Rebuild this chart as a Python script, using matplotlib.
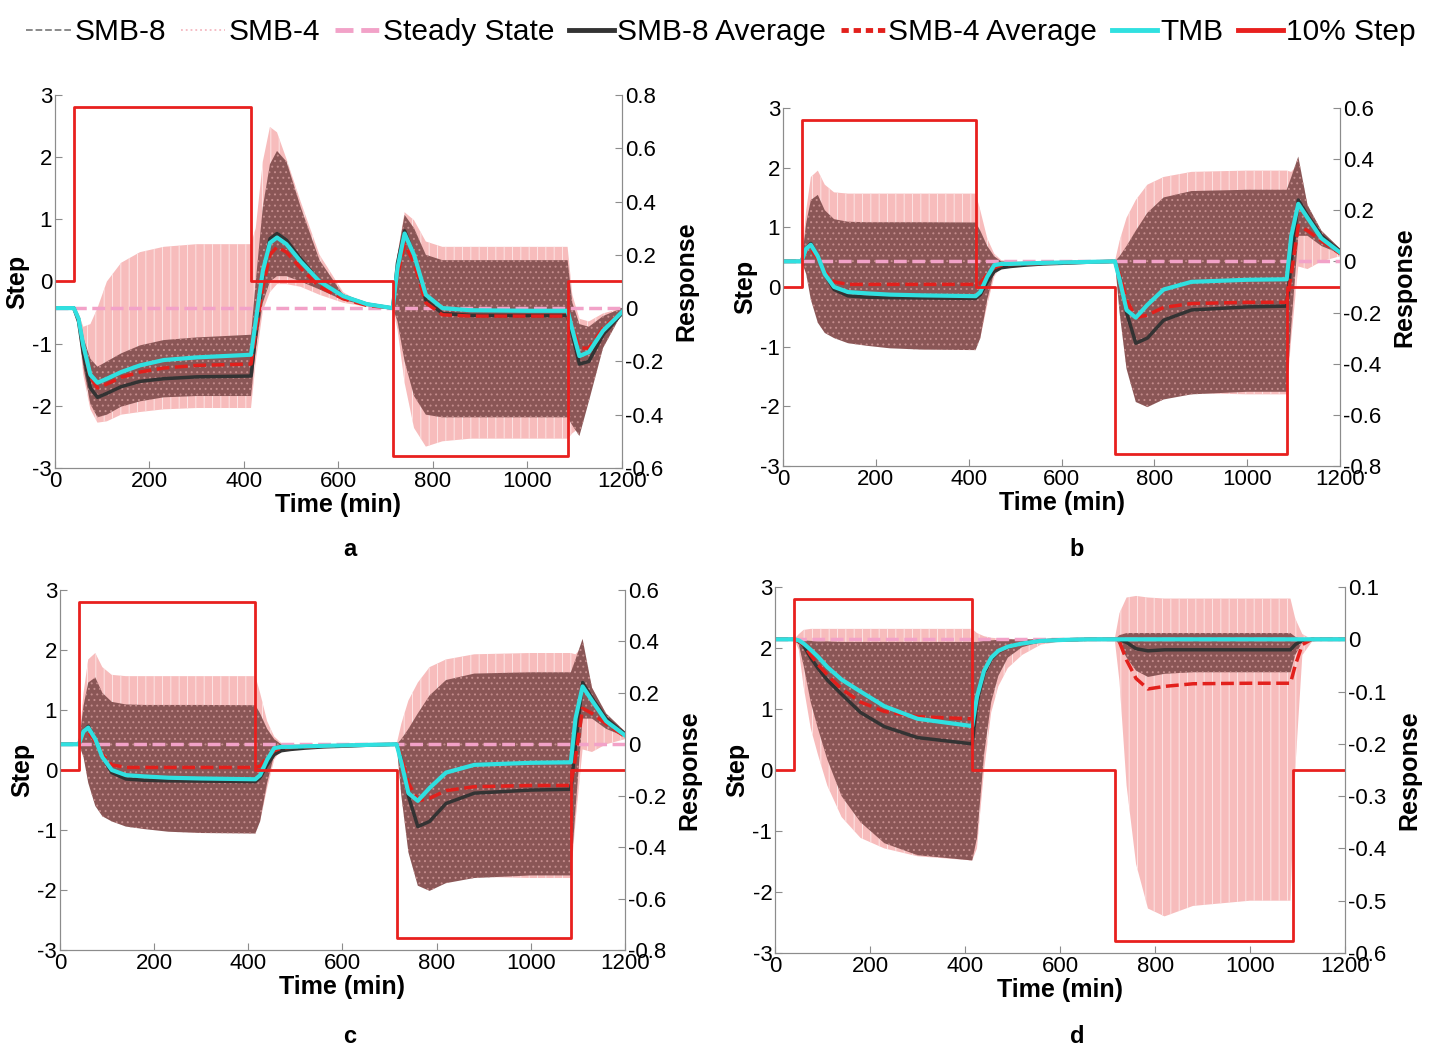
import numpy as np
import matplotlib.pyplot as plt
from matplotlib.lines import Line2D
from matplotlib.ticker import FormatStrFormatter

plt.rcParams['font.family'] = ['Liberation Sans', 'DejaVu Sans']
plt.rcParams['axes.unicode_minus'] = False
plt.rcParams['hatch.linewidth'] = 0.7

# common time grid (min) for the response curves
t = [0, 40, 50, 60, 75, 90, 110, 140, 180, 230, 300, 415, 425, 440, 455, 470, 490, 520, 560, 610,
     660, 715, 725, 740, 760, 785, 820, 880, 1000, 1085, 1095, 1110, 1130, 1160, 1200]

# 10% step input (left axis)
step_t = [0, 40, 415, 715, 1085, 1200]
step_t_d = [0, 40, 415, 715, 1090, 1200]
step_v = [0, 2.8, 0, -2.8, 0, 0]

# panel a
a_tmb = [0, 0, -0.04, -0.14, -0.25, -0.28, -0.265, -0.24, -0.215, -0.195, -0.185, -0.175,
         -0.05, 0.14, 0.245, 0.265, 0.24, 0.175, 0.1, 0.045, 0.015, 0.0,
         0.15, 0.28, 0.2, 0.05, 0.0, -0.008, -0.01, -0.01,
         -0.08, -0.18, -0.165, -0.085, -0.015]
a_avg8 = [0, 0, -0.05, -0.17, -0.3, -0.335, -0.32, -0.295, -0.275, -0.265, -0.258, -0.255,
          -0.1, 0.12, 0.26, 0.28, 0.255, 0.185, 0.1, 0.045, 0.015, 0.0,
          0.17, 0.29, 0.2, 0.03, -0.02, -0.027, -0.028, -0.028,
          -0.1, -0.21, -0.2, -0.1, -0.02]
a_avg4 = [0, 0, -0.04, -0.14, -0.26, -0.3, -0.285, -0.26, -0.24, -0.225, -0.215, -0.21,
          -0.09, 0.08, 0.2, 0.23, 0.21, 0.15, 0.08, 0.035, 0.01, 0.0,
          0.12, 0.24, 0.17, 0.02, -0.025, -0.03, -0.03, -0.03,
          -0.07, -0.15, -0.15, -0.075, -0.015]
a_up8 = [0, 0, -0.03, -0.11, -0.19, -0.22, -0.2, -0.17, -0.14, -0.12, -0.11, -0.1,
         0.1, 0.38, 0.54, 0.59, 0.55, 0.38, 0.18, 0.05, 0.01, 0.0,
         0.2, 0.35, 0.3, 0.2, 0.18, 0.18, 0.18, 0.18,
         0.02, -0.06, -0.07, -0.03, 0.0]
a_lo8 = [0, 0, -0.07, -0.22, -0.36, -0.41, -0.4, -0.37, -0.35, -0.335, -0.33, -0.33,
         -0.15, 0.02, 0.1, 0.12, 0.12, 0.1, 0.07, 0.03, 0.01, 0.0,
         -0.05, -0.2, -0.33, -0.4, -0.41, -0.41, -0.41, -0.41,
         -0.44, -0.48, -0.35, -0.15, -0.02]
a_up4 = [0, 0, -0.02, -0.07, -0.06, 0.0, 0.1, 0.17, 0.21, 0.23, 0.24, 0.24,
         0.3, 0.55, 0.68, 0.66, 0.56, 0.4, 0.2, 0.06, 0.01, 0.0,
         0.2, 0.36, 0.33, 0.25, 0.23, 0.23, 0.23, 0.23,
         0.05, -0.04, -0.05, -0.02, 0.0]
a_lo4 = [0, 0, -0.08, -0.25, -0.38, -0.43, -0.425, -0.4, -0.39, -0.38, -0.375, -0.375,
         -0.2, -0.01, 0.06, 0.09, 0.09, 0.08, 0.05, 0.02, 0.005, 0.0,
         -0.08, -0.28, -0.45, -0.52, -0.5, -0.49, -0.49, -0.49,
         -0.47, -0.45, -0.3, -0.12, -0.02]

# panel b
b_tmb = [0, 0, 0.05, 0.065, 0.02, -0.05, -0.1, -0.12, -0.125, -0.13, -0.133, -0.136,
         -0.12, -0.06, -0.015, -0.01, -0.01, -0.008, -0.006, -0.004, -0.002, 0.0,
         -0.07, -0.19, -0.22, -0.17, -0.11, -0.08, -0.072, -0.07,
         0.1, 0.225, 0.17, 0.09, 0.035]
b_avg8 = [0, 0, 0.05, 0.07, 0.02, -0.05, -0.11, -0.135, -0.14, -0.142, -0.143, -0.145,
          -0.13, -0.08, -0.04, -0.025, -0.02, -0.015, -0.01, -0.007, -0.003, 0.0,
          -0.06, -0.2, -0.32, -0.3, -0.23, -0.19, -0.178, -0.175,
          0.0, 0.24, 0.18, 0.1, 0.04]
b_avg4 = [0, 0, 0.04, 0.05, 0.01, -0.04, -0.08, -0.09, -0.09, -0.09, -0.09, -0.09,
          -0.085, -0.05, -0.025, -0.015, -0.012, -0.01, -0.008, -0.005, -0.002, 0.0,
          -0.05, -0.15, -0.22, -0.21, -0.18, -0.165, -0.16, -0.16,
          -0.05, 0.14, 0.12, 0.08, 0.03]
b_up8 = [0, 0, 0.15, 0.24, 0.26, 0.2, 0.165, 0.155, 0.153, 0.153, 0.153, 0.152,
         0.12, 0.06, 0.02, 0.0, -0.002, -0.003, -0.003, -0.002, -0.001, 0.0,
         0.02, 0.06, 0.12, 0.19, 0.25, 0.275, 0.28, 0.28,
         0.33, 0.41, 0.22, 0.12, 0.05]
b_lo8 = [0, 0, -0.05, -0.15, -0.24, -0.28, -0.3, -0.32, -0.33, -0.34, -0.345, -0.347,
         -0.3, -0.15, -0.04, -0.02, -0.012, -0.008, -0.006, -0.004, -0.002, 0.0,
         -0.2, -0.42, -0.55, -0.57, -0.54, -0.52, -0.51, -0.51,
         -0.25, 0.1, 0.1, 0.06, 0.03]
b_up4 = [0, 0, 0.2, 0.33, 0.355, 0.3, 0.27, 0.265, 0.265, 0.265, 0.265, 0.265,
         0.2, 0.09, 0.03, 0.005, 0.0, 0.0, 0.0, 0.0, 0.0, 0.0,
         0.08, 0.17, 0.24, 0.3, 0.33, 0.35, 0.355, 0.355,
         0.35, 0.38, 0.22, 0.11, 0.05]
b_lo4 = [0, 0, -0.04, -0.12, -0.2, -0.25, -0.28, -0.3, -0.31, -0.32, -0.325, -0.33,
         -0.3, -0.17, -0.06, -0.02, -0.012, -0.008, -0.006, -0.004, -0.002, 0.0,
         -0.12, -0.3, -0.45, -0.5, -0.51, -0.515, -0.52, -0.52,
         -0.3, -0.02, -0.03, 0.0, 0.02]

# panel c reads the same as panel b
c_tmb, c_avg8, c_avg4 = b_tmb, b_avg8, b_avg4
c_up8, c_lo8, c_up4, c_lo4 = b_up8, b_lo8, b_up4, b_lo4

# panel d
d_tmb = [0, 0, -0.002, -0.008, -0.02, -0.033, -0.053, -0.077, -0.1, -0.128, -0.152, -0.166,
         -0.11, -0.06, -0.035, -0.022, -0.014, -0.008, -0.003, -0.001, 0.0, 0.0,
         0.0, 0.0, 0.0, 0.0, 0.0, 0.0, 0.0, 0.0,
         0.0, 0.0, 0.0, 0.0, 0.0]
d_avg8 = [0, 0, -0.004, -0.012, -0.035, -0.055, -0.078, -0.105, -0.14, -0.167, -0.188, -0.2,
          -0.12, -0.065, -0.038, -0.024, -0.015, -0.008, -0.003, -0.001, 0.0, 0.0,
          0.0, -0.006, -0.018, -0.022, -0.02, -0.02, -0.02, -0.02,
          -0.01, -0.002, 0.0, 0.0, 0.0]
d_avg4 = [0, 0, -0.004, -0.01, -0.03, -0.048, -0.068, -0.095, -0.12, -0.138, -0.148, -0.152,
          -0.11, -0.06, -0.036, -0.023, -0.015, -0.008, -0.003, -0.001, 0.0, 0.0,
          -0.005, -0.04, -0.075, -0.095, -0.09, -0.085, -0.084, -0.084,
          -0.05, -0.01, 0.0, 0.0, 0.0]
d_up8 = [0, 0, 0.0, -0.002, -0.003, -0.004, -0.004, -0.005, -0.005, -0.005, -0.005, -0.005,
         -0.005, -0.003, -0.002, -0.001, 0.0, 0.0, 0.0, 0.0, 0.0, 0.0,
         0.008, 0.012, 0.012, 0.012, 0.012, 0.012, 0.012, 0.012,
         0.005, 0.0, 0.0, 0.0, 0.0]
d_lo8 = [0, 0, -0.01, -0.05, -0.12, -0.17, -0.23, -0.3, -0.35, -0.39, -0.413, -0.423,
         -0.38, -0.22, -0.12, -0.07, -0.035, -0.015, -0.005, -0.001, 0.0, 0.0,
         -0.01, -0.035, -0.06, -0.072, -0.066, -0.063, -0.063, -0.063,
         -0.03, -0.005, 0.0, 0.0, 0.0]
d_up4 = [0, 0, 0.01, 0.018, 0.02, 0.02, 0.02, 0.02, 0.02, 0.02, 0.02, 0.02,
         0.012, 0.006, 0.003, 0.002, 0.001, 0.0, 0.0, 0.0, 0.0, 0.0,
         0.05, 0.08, 0.083, 0.08, 0.078, 0.078, 0.078, 0.078,
         0.04, 0.01, 0.0, 0.0, 0.0]
d_lo4 = [0, 0, -0.02, -0.09, -0.17, -0.22, -0.28, -0.34, -0.38, -0.4, -0.415, -0.423,
         -0.4, -0.25, -0.14, -0.09, -0.055, -0.03, -0.01, -0.003, 0.0, 0.0,
         -0.08, -0.28, -0.43, -0.515, -0.53, -0.51, -0.5, -0.5,
         -0.25, -0.03, -0.005, 0.0, 0.0]

C_SMB8 = '#8a5656'
C_SMB4 = '#f7bcbc'
C_SS = '#f2a2c8'
C_AVG8 = '#333333'
C_AVG4 = '#e2201c'
C_TMB = '#30e0e0'
C_STEP = '#e8201e'
C_AX = '#8c8c8c'

fig = plt.figure(figsize=(14.42, 10.53), dpi=100)


def panel(rect, letter, letter_xy, rlim, rticks, st, tmb, avg8, avg4, up8, lo8, up4, lo4):
    ax = fig.add_axes(rect)
    ax2 = ax.twinx()
    ax2.fill_between(t, lo4, up4, facecolor=C_SMB4, edgecolor='#fde4e4', hatch='||',
                     linewidth=0, zorder=1)
    ax2.fill_between(t, lo8, up8, facecolor=C_SMB8, edgecolor='#c48c8c', hatch='...',
                     linewidth=0, zorder=2)
    ax2.axhline(0, color=C_SS, ls='--', lw=2.5, zorder=3)
    ax2.plot(t, avg8, color=C_AVG8, lw=2.5, zorder=4)
    ax2.plot(t, avg4, color=C_AVG4, ls='--', lw=2.5, zorder=5)
    ax2.plot(t, tmb, color=C_TMB, lw=3, zorder=6)
    ax.step(st, step_v, where='post', color=C_STEP, lw=2)
    ax.set_zorder(ax2.get_zorder() + 1)
    ax.patch.set_visible(False)

    ax.set_xlim(0, 1200)
    ax.set_xticks(range(0, 1201, 200))
    ax.set_ylim(-3, 3)
    ax.set_yticks(range(-3, 4))
    ax2.set_ylim(*rlim)
    ax2.set_yticks(rticks)
    ax2.yaxis.set_major_formatter(FormatStrFormatter('%g'))
    for a in (ax, ax2):
        a.spines['top'].set_visible(False)
        for s in a.spines.values():
            s.set_color(C_AX)
        a.tick_params(direction='in', length=5, labelsize=16, color=C_AX, pad=2)
    ax.set_xlabel('Time (min)', fontsize=18, fontweight='bold', labelpad=1)
    ax.set_ylabel('Step', fontsize=18, fontweight='bold', labelpad=2)
    ax2.set_ylabel('Response', fontsize=18, fontweight='bold', labelpad=8)
    fig.text(letter_xy[0], letter_xy[1], letter, fontsize=17, fontweight='bold',
             ha='center', va='center')


r_a = [-0.6, -0.4, -0.2, 0, 0.2, 0.4, 0.6, 0.8]
r_bc = [-0.8, -0.6, -0.4, -0.2, 0, 0.2, 0.4, 0.6]
r_d = [-0.6, -0.5, -0.4, -0.3, -0.2, -0.1, 0, 0.1]

panel([0.0381, 0.5556, 0.3932, 0.3542], 'a', (0.2427, 0.4777), (-0.6, 0.8), r_a, step_t,
      a_tmb, a_avg8, a_avg4, a_up8, a_lo8, a_up4, a_lo4)
panel([0.5430, 0.5575, 0.3863, 0.3400], 'b', (0.7469, 0.4777), (-0.8, 0.6), r_bc, step_t,
      b_tmb, b_avg8, b_avg4, b_up8, b_lo8, b_up4, b_lo4)
panel([0.0416, 0.0978, 0.3918, 0.3419], 'c', (0.2427, 0.0152), (-0.8, 0.6), r_bc, step_t,
      c_tmb, c_avg8, c_avg4, c_up8, c_lo8, c_up4, c_lo4)
panel([0.5375, 0.0950, 0.3953, 0.3475], 'd', (0.7469, 0.0152), (-0.6, 0.1), r_d, step_t_d,
      d_tmb, d_avg8, d_avg4, d_up8, d_lo8, d_up4, d_lo4)

handles = [
    Line2D([], [], color='#808080', ls='--', lw=1.3),
    Line2D([], [], color='#f4b8c0', ls=':', lw=1.3),
    Line2D([], [], color=C_SS, ls='--', lw=3.5),
    Line2D([], [], color=C_AVG8, lw=3.5),
    Line2D([], [], color=C_AVG4, ls=(0, (1.5, 1)), lw=3.5),
    Line2D([], [], color=C_TMB, lw=3.5),
    Line2D([], [], color=C_STEP, lw=3.5),
]
labels = ['SMB-8', 'SMB-4', 'Steady State', 'SMB-8 Average', 'SMB-4 Average', 'TMB', '10% Step']
fig.legend(handles, labels, loc='upper center', bbox_to_anchor=(0.5, 1.008), ncol=7,
           frameon=False, fontsize=21.5, handlelength=1.5, handletextpad=0.1, columnspacing=0.5)

fig.savefig('out.png', dpi=100)
